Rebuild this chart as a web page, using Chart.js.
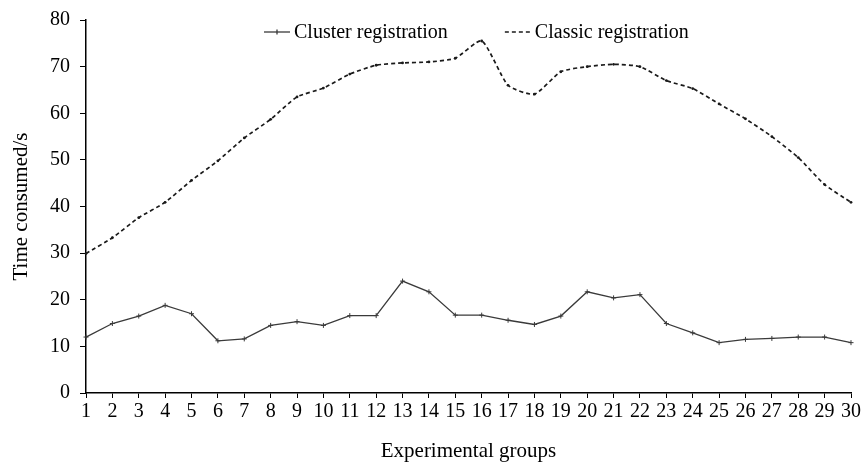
<!DOCTYPE html>
<html>
<head>
<meta charset="utf-8">
<script src="https://cdn.jsdelivr.net/npm/chart.js@4"></script>
<style>
  html, body { margin: 0; padding: 0; background: #fff; }
  #wrap { width: 863px; height: 462px; }
</style>
</head>
<body>
<div id="wrap"><canvas id="canvas"></canvas></div>
<script>
// groups on the x axis
var groups = ['1','2','3','4','5','6','7','8','9','10','11','12','13','14','15',
              '16','17','18','19','20','21','22','23','24','25','26','27','28','29','30'];
// time consumed (s)
var clusterVal = [12.0, 14.9, 16.5, 18.8, 17.0, 11.2, 11.6, 14.5, 15.3, 14.5,
                  16.6, 16.6, 24.0, 21.7, 16.7, 16.7, 15.6, 14.7, 16.5, 21.7,
                  20.4, 21.1, 14.9, 12.9, 10.8, 11.5, 11.7, 12.0, 12.0, 10.8];
var classicVal = [29.9, 33.3, 37.6, 40.9, 45.6, 49.8, 54.7, 58.7, 63.5, 65.4,
                  68.4, 70.3, 70.8, 71.0, 71.8, 75.5, 66.0, 64.1, 68.9, 70.0,
                  70.5, 70.0, 67.0, 65.3, 62.0, 58.8, 55.0, 50.5, 44.7, 40.9];
var yTicks = [0, 10, 20, 30, 40, 50, 60, 70, 80];

var serif = 'Liberation Serif, Times New Roman, serif';
Chart.defaults.font.family = serif;
Chart.defaults.color = '#000';

// legend drawn inside the plot, in one row at the top
var innerLegend = {
  id: 'innerLegend',
  afterDraw: function (chart) {
    var c = chart.ctx, area = chart.chartArea;
    var y = area.top + 12;
    var x = area.left + 178;
    c.save();
    c.font = '20px ' + serif;
    c.textBaseline = 'middle';
    chart.data.datasets.forEach(function (ds, i) {
      c.strokeStyle = ds.borderColor;
      c.lineWidth = ds.borderWidth;
      c.setLineDash(ds.borderDash || []);
      c.beginPath();
      c.moveTo(x, y);
      c.lineTo(x + 26, y);
      c.stroke();
      c.setLineDash([]);
      if (i === 0) {
        c.beginPath();
        c.moveTo(x + 13, y - 2.5);
        c.lineTo(x + 13, y + 2.5);
        c.stroke();
      }
      c.fillStyle = '#000';
      c.fillText(ds.label, x + 30, y + 1);
      x += 30 + c.measureText(ds.label).width + 57;
    });
    c.restore();
  }
};

var ctx = document.getElementById('canvas').getContext('2d');
window.myChart = new Chart(ctx, {
  type: 'line',
  data: {
    labels: groups,
    datasets: [{
      label: 'Cluster registration',
      data: clusterVal,
      borderColor: '#3a3a3a',
      backgroundColor: '#3a3a3a',
      borderWidth: 1.3,
      tension: 0,
      pointStyle: 'cross',
      pointRadius: 2.5,
      pointBorderWidth: 1
    }, {
      label: 'Classic registration',
      data: classicVal,
      borderColor: '#1a1a1a',
      backgroundColor: '#1a1a1a',
      borderWidth: 1.7,
      borderDash: [4, 3],
      tension: 0.2,
      pointStyle: 'circle',
      pointRadius: 1.4,
      pointBorderWidth: 0
    }]
  },
  plugins: [innerLegend],
  options: {
    responsive: true,
    maintainAspectRatio: false,
    animation: false,
    layout: { padding: { top: 8, right: 4, left: 11, bottom: 0 } },
    plugins: {
      tooltip: { enabled: false },
      legend: { display: false }
    },
    scales: {
      x: {
        offset: false,
        grid: { display: true, drawOnChartArea: false, color: '#000', tickLength: 5, lineWidth: 1 },
        border: { color: '#000', width: 1.5 },
        ticks: { autoSkip: false, maxRotation: 0, font: { size: 20 }, padding: 2 },
        title: { display: true, text: 'Experimental groups', font: { size: 21, lineHeight: 1 }, padding: { top: 15, bottom: 0 } }
      },
      y: {
        min: 0,
        max: 80,
        afterBuildTicks: function (scale) {
          scale.ticks = yTicks.map(function (v) { return { value: v }; });
        },
        grid: { display: true, drawOnChartArea: false, color: '#000', tickLength: 6, lineWidth: 1 },
        border: { color: '#000', width: 1.5 },
        ticks: { font: { size: 20, lineHeight: 1 }, padding: 10 },
        title: { display: true, text: 'Time consumed/s', font: { size: 21, lineHeight: 1 }, padding: { top: 0, bottom: 8 } }
      }
    }
  }
});
</script>
</body>
</html>
